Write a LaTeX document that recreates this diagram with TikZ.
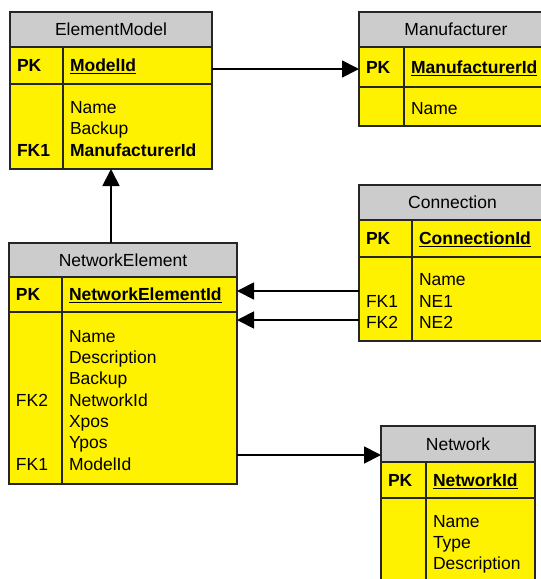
\documentclass[tikz,border=0pt]{standalone}
\usepackage{fontspec}
\setmainfont{Liberation Sans}
\usetikzlibrary{arrows.meta}
\setlength{\parindent}{0pt}
\newcommand{\erfont}{\fontsize{17.5pt}{21.3pt}\selectfont\lineskiplimit=-20pt\relax}
\newcommand{\rs}{\rule[-2.25pt]{0pt}{21pt}}
\tikzset{
  ent/.style={draw=black!85,line width=1.2pt,inner xsep=7pt,inner ysep=0pt,outer sep=0pt,anchor=north west},
  hdr/.style={ent,fill=black!20,align=center,text height=12.5pt,text depth=0pt},
  pk/.style={ent,fill=yellow,align=left,text height=12.5pt,text depth=0pt,font=\erfont\bfseries},
  attr/.style={ent,fill=yellow,align=left},
  link/.style={line width=1.8pt,-{Triangle[length=17pt,width=17pt]}}
}

\begin{document}
\begin{tikzpicture}[x=1pt,y=-1pt,font=\erfont]
  \path[use as bounding box,clip] (0,0) rectangle (541,579);
  % ElementModel
  \node[hdr,text width=188pt,minimum height=35pt] (em) at (10,12) {ElementModel};
  \node[pk,text width=39pt,minimum height=37pt] (emk) at (em.south west) {PK};
  \node[pk,text width=135pt,minimum height=37pt] (emf) at (emk.north east) {\underline{ModelId}};
  \node[attr,text width=39pt,minimum height=85pt] (emkb) at (emk.south west) {\rs\\\rs\\\rs\textbf{FK1}};
  \node[attr,text width=135pt,minimum height=85pt] (emfb) at (emk.south east) {\rs Name\\\rs Backup\\\rs\textbf{ManufacturerId}};
  % Manufacturer
  \node[hdr,text width=180pt,minimum height=35pt] (mf) at (359,12) {Manufacturer};
  \node[pk,text width=31pt,minimum height=40pt] (mfk) at (mf.south west) {PK};
  \node[pk,text width=135pt,minimum height=40pt] (mff) at (mfk.north east) {\underline{ManufacturerId}};
  \node[attr,text width=31pt,minimum height=39pt] (mfkb) at (mfk.south west) {\rs};
  \node[attr,text width=135pt,minimum height=39pt] (mffb) at (mfk.south east) {\rs Name};
  % Connection
  \node[hdr,text width=173pt,minimum height=35pt] (cn) at (359,185) {Connection};
  \node[pk,text width=39pt,minimum height=37pt] (cnk) at (cn.south west) {PK};
  \node[pk,text width=120pt,minimum height=37pt] (cnf) at (cnk.north east) {\underline{ConnectionId}};
  \node[attr,text width=39pt,minimum height=84pt] (cnkb) at (cnk.south west) {\rs\\\rs FK1\\\rs FK2};
  \node[attr,text width=120pt,minimum height=84pt] (cnfb) at (cnk.south east) {\rs Name\\\rs NE1\\\rs NE2};
  % NetworkElement
  \node[hdr,text width=214pt,minimum height=34pt] (ne) at (9,243) {NetworkElement};
  \node[pk,text width=39pt,minimum height=35pt] (nek) at (ne.south west) {PK};
  \node[pk,text width=161pt,minimum height=35pt] (nef) at (nek.north east) {\underline{NetworkElementId}};
  \node[attr,text width=39pt,minimum height=172pt] (nekb) at (nek.south west) {\rs\\\rs\\\rs\\\rs FK2\\\rs\\\rs\\\rs FK1};
  \node[attr,text width=161pt,minimum height=172pt] (nefb) at (nek.south east) {\rs Name\\\rs Description\\\rs Backup\\\rs NetworkId\\\rs Xpos\\\rs Ypos\\\rs ModelId};
  % Network
  \node[hdr,text width=140pt,minimum height=36pt] (nw) at (381,426) {Network};
  \node[pk,text width=31pt,minimum height=36pt] (nwk) at (nw.south west) {PK};
  \node[pk,text width=95pt,minimum height=36pt] (nwf) at (nwk.north east) {\underline{NetworkId}};
  \node[attr,text width=31pt,minimum height=86pt] (nwkb) at (nwk.south west) {\rs\\\rs\\\rs};
  \node[attr,text width=95pt,minimum height=86pt] (nwfb) at (nwk.south east) {\rs Name\\\rs Type\\\rs Description};

  \coordinate (a1) at ([yshift=-3.5pt]emf.east);
  \coordinate (c1) at ([yshift=-34pt]cnk.south west);
  \coordinate (c2) at ([yshift=-63pt]cnk.south west);
  \coordinate (n1) at ([yshift=-29pt]nw.north west);
  \draw[link] (a1) -- (a1 -| mfk.west);
  \draw[link] (em |- ne.north) -- (em |- emkb.south);
  \draw[link] (c1) -- (c1 -| nef.east);
  \draw[link] (c2) -- (c2 -| nefb.east);
  \draw[link] (n1 -| nefb.east) -- (n1);
\end{tikzpicture}
\end{document}
